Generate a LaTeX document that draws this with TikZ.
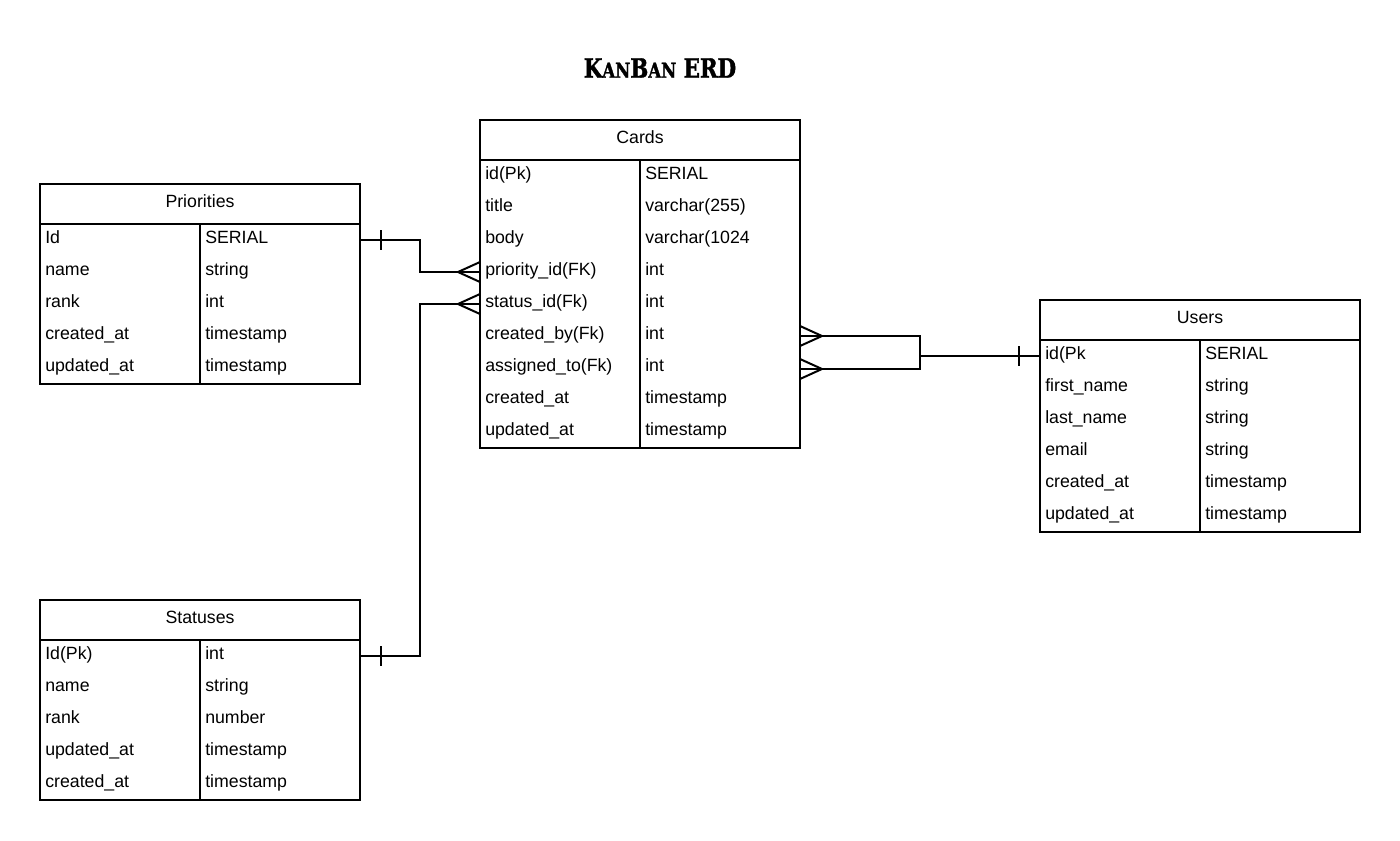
\documentclass[tikz,border=0pt]{standalone}
\usepackage{fontspec}
\setmainfont{Liberation Sans}
\newfontfamily\titlefont{DejaVu Serif}[FakeStretch=0.8, FakeBold=1.5]
\usetikzlibrary{positioning,calc}

\tikzset{
  tbl/.style={draw, line width=1.5pt, minimum width=240pt, minimum height=30pt,
    inner sep=0pt, outer sep=0pt, text height=8.5pt, text depth=3pt,
    font=\fontsize{13.3}{16}\selectfont},
  row/.style={anchor=west, inner sep=0pt, text height=8pt, text depth=3pt,
    font=\fontsize{13.3}{16}\selectfont},
  link/.style={line width=1.5pt},
  crowfoot/.pic={\draw[link] (0,-10) -- (-22,0) -- (0,10);},
}

\begin{document}
\begin{tikzpicture}[x=0.75pt,y=-0.75pt]
  \useasboundingbox (0,0) rectangle (1400,840);
  \node[font=\titlefont\bfseries\fontsize{20}{22}\selectfont] (title) at (660,68)
    {K{\fontsize{15.5}{18}\selectfont AN}B{\fontsize{15.5}{18}\selectfont AN} ERD};

  % Priorities
  \node[tbl] (prio) at (200,204) {Priorities};
  \node[tbl, minimum height=120pt, anchor=north] (priobody) at (prio.south) {};
  \draw[link] (priobody.north) -- (priobody.south);
  \foreach \n/\t [count=\i] in {Id/SERIAL, name/string, rank/int,
      created\_at/timestamp, updated\_at/timestamp}{
    \node[row] (prio\i) at ($(priobody.north west)+(5,16+32*\i-32)$) {\n};
    \node[row] (priot\i) at ($(priobody.north)+(5,16+32*\i-32)$) {\t};
  }

  % Cards
  \node[tbl] (cards) at (640,140) {Cards};
  \node[tbl, minimum height=216pt, anchor=north] (cardsbody) at (cards.south) {};
  \draw[link] (cardsbody.north) -- (cardsbody.south);
  \foreach \n/\t [count=\i] in {id(Pk)/SERIAL, title/varchar(255), body/varchar(1024,
      priority\_id(FK)/int, status\_id(Fk)/int, created\_by(Fk)/int,
      assigned\_to(Fk)/int, created\_at/timestamp, updated\_at/timestamp}{
    \node[row] (cards\i) at ($(cardsbody.north west)+(5,16+32*\i-32)$) {\n};
    \node[row] (cardst\i) at ($(cardsbody.north)+(5,16+32*\i-32)$) {\t};
  }

  % Users
  \node[tbl] (users) at (1200,320) {Users};
  \node[tbl, minimum height=144pt, anchor=north] (usersbody) at (users.south) {};
  \draw[link] (usersbody.north) -- (usersbody.south);
  \foreach \n/\t [count=\i] in {id(Pk/SERIAL, first\_name/string, last\_name/string,
      email/string, created\_at/timestamp, updated\_at/timestamp}{
    \node[row] (users\i) at ($(usersbody.north west)+(5,16+32*\i-32)$) {\n};
    \node[row] (userst\i) at ($(usersbody.north)+(5,16+32*\i-32)$) {\t};
  }

  % Statuses
  \node[tbl] (stat) at (200,620) {Statuses};
  \node[tbl, minimum height=120pt, anchor=north] (statbody) at (stat.south) {};
  \draw[link] (statbody.north) -- (statbody.south);
  \foreach \n/\t [count=\i] in {Id(Pk)/int, name/string, rank/number,
      updated\_at/timestamp, created\_at/timestamp}{
    \node[row] (stat\i) at ($(statbody.north west)+(5,16+32*\i-32)$) {\n};
    \node[row] (statt\i) at ($(statbody.north)+(5,16+32*\i-32)$) {\t};
  }

  % relations
  \draw[link] (priobody.east |- prio1) -- ++(60,0) |- (cardsbody.west |- cards4);
  \draw[link] ($(priobody.east |- prio1)+(21,-10)$) -- ++(0,20);
  \pic at (cardsbody.west |- cards4) {crowfoot};

  \draw[link] (statbody.east |- stat1) -- ++(60,0) |- (cardsbody.west |- cards5);
  \draw[link] ($(statbody.east |- stat1)+(21,-10)$) -- ++(0,20);
  \pic at (cardsbody.west |- cards5) {crowfoot};

  \coordinate (ujoin) at ($(usersbody.west |- users1)+(-120,0)$);
  \draw[link] (cardsbody.east |- cards6) -| (ujoin) |- ($(cardsbody.east |- cards7)+(0,1)$);
  \draw[link] (ujoin) -- (usersbody.west |- users1);
  \draw[link] ($(usersbody.west |- users1)+(-21,-10)$) -- ++(0,20);
  \pic[rotate=180] at (cardsbody.east |- cards6) {crowfoot};
  \pic[rotate=180] at ($(cardsbody.east |- cards7)+(0,1)$) {crowfoot};
\end{tikzpicture}
\end{document}
